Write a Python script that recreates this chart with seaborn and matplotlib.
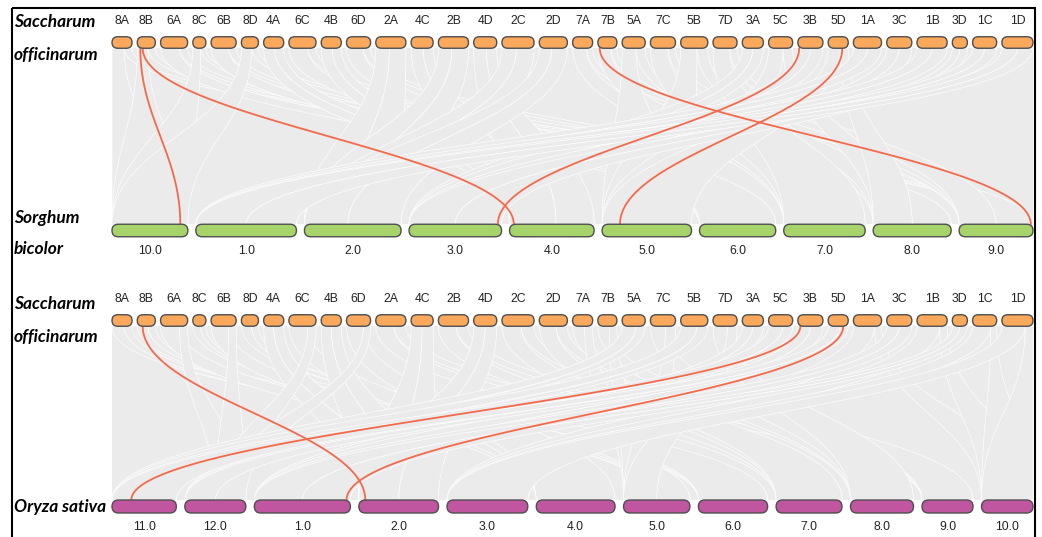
import numpy as np
import matplotlib
matplotlib.use("Agg")
import matplotlib.pyplot as plt
from matplotlib.patches import FancyBboxPatch, PathPatch, Rectangle
from matplotlib.path import Path
import pandas as pd
import seaborn as sns

# ---------------- data ----------------
cane_chroms = ["8A", "8B", "6A", "8C", "6B", "8D", "4A", "6C", "4B", "6D", "2A", "4C",
               "2B", "4D", "2C", "2D", "7A", "7B", "5A", "7C", "5B", "7D", "3A", "5C",
               "3B", "5D", "1A", "3C", "1B", "3D", "1C", "1D"]
cane_lengths = [20, 18, 27, 13, 25, 17, 20, 27, 20, 24, 30, 22,
                30, 23, 32, 28, 20, 19, 23, 25, 27, 24, 21, 24,
                25, 20, 28, 25, 30, 15, 24, 31]

sorghum_chroms = ["10.0", "1.0", "2.0", "3.0", "4.0", "5.0", "6.0", "7.0", "8.0", "9.0"]
sorghum_lengths = [61.0, 80.9, 77.7, 74.4, 68.0, 71.9, 61.3, 65.5, 62.7, 59.4]

rice_chroms = ["11.0", "12.0", "1.0", "2.0", "3.0", "4.0", "5.0", "6.0", "7.0", "8.0", "9.0", "10.0"]
rice_lengths = [29.0, 27.5, 43.3, 35.9, 36.4, 35.5, 29.9, 31.2, 29.7, 28.4, 23.0, 23.2]

# collinear blocks: base chromosome -> (source fraction range, target chrom, target fraction range)
cane_to_sorghum = {
    "1": [((0.0, 0.5), "1.0", (0.0, 0.5)), ((0.5, 1.0), "1.0", (0.5, 1.0))],
    "2": [((0.0, 0.45), "2.0", (0.0, 0.45)), ((0.45, 1.0), "2.0", (0.45, 1.0))],
    "3": [((0.0, 0.5), "3.0", (0.0, 0.5)), ((0.5, 1.0), "3.0", (0.5, 1.0))],
    "4": [((0.0, 0.55), "4.0", (0.0, 0.55)), ((0.55, 1.0), "4.0", (0.55, 1.0))],
    "5": [((0.0, 0.6), "5.0", (0.0, 1.0)), ((0.6, 1.0), "8.0", (0.0, 0.5))],
    "6": [((0.0, 0.7), "6.0", (0.0, 1.0)), ((0.7, 1.0), "8.0", (0.5, 1.0))],
    "7": [((0.0, 0.7), "7.0", (0.0, 1.0)), ((0.7, 1.0), "9.0", (0.0, 0.5))],
    "8": [((0.0, 0.6), "10.0", (0.0, 1.0)), ((0.6, 1.0), "9.0", (0.5, 1.0))],
}
cane_to_rice = {
    "1": [((0.0, 0.75), "3.0", (0.0, 1.0)), ((0.75, 1.0), "10.0", (0.0, 1.0))],
    "2": [((0.0, 0.6), "7.0", (0.0, 1.0)), ((0.6, 1.0), "9.0", (0.0, 1.0))],
    "3": [((0.0, 0.5), "1.0", (0.0, 0.5)), ((0.5, 1.0), "1.0", (0.5, 1.0))],
    "4": [((0.0, 0.5), "2.0", (0.0, 0.5)), ((0.5, 1.0), "2.0", (0.5, 1.0))],
    "5": [((0.0, 0.6), "11.0", (0.0, 1.0)), ((0.6, 1.0), "12.0", (0.0, 0.5))],
    "6": [((0.0, 0.7), "4.0", (0.0, 1.0)), ((0.7, 1.0), "12.0", (0.5, 1.0))],
    "7": [((0.0, 0.6), "8.0", (0.0, 1.0)), ((0.6, 1.0), "5.0", (0.0, 0.5))],
    "8": [((0.0, 0.6), "6.0", (0.0, 1.0)), ((0.6, 1.0), "5.0", (0.5, 1.0))],
}

# highlighted gene pairs: (cane chrom, position fraction, target chrom, position fraction)
sorghum_pairs = [("8B", 0.17, "10.0", 0.90), ("8B", 0.30, "4.0", 0.05),
                 ("3B", 0.05, "3.0", 0.96), ("5D", 0.70, "5.0", 0.20),
                 ("7B", 0.10, "9.0", 0.97)]
rice_pairs = [("8B", 0.30, "2.0", 0.08), ("3B", 0.10, "11.0", 0.30),
              ("5D", 0.75, "1.0", 0.96)]

# ---------------- style ----------------
sns.set_theme(style="white")
plt.rcParams["font.family"] = ["Liberation Sans", "DejaVu Sans"]

CANE_COL = "#f9a85c"
SORG_COL = "#a6d36a"
RICE_COL = "#c056a0"
EDGE_COL = "#4f4f4f"
LINK_COL = "#f26a4b"
RIBBON_COL = "#ebebeb"

X0, X1 = 112, 1033
Y_CANE1, Y_SORG, Y_CANE2, Y_RICE = 42.5, 230.5, 320.5, 506.5
H_CANE, H_SORG, H_RICE = 11.5, 12.5, 13.0

fig = plt.figure(figsize=(10.42, 5.37), dpi=100)
ax = fig.add_axes([0, 0, 1, 1])
ax.set_xlim(0, 1042)
ax.set_ylim(537, 0)
ax.axis("off")


def layout(names, lengths, gap):
    lengths = np.asarray(lengths, dtype=float)
    scale = (X1 - X0 - gap * (len(lengths) - 1)) / lengths.sum()
    starts = X0 + np.concatenate([[0], np.cumsum(lengths[:-1] * scale + gap)])
    return {n: (s, s + l * scale) for n, s, l in zip(names, starts, lengths)}


cane_pos = layout(cane_chroms, cane_lengths, 5.2)
sorg_pos = layout(sorghum_chroms, sorghum_lengths, 8.0)
rice_pos = layout(rice_chroms, rice_lengths, 8.5)


def at(pos, name, frac):
    a, b = pos[name]
    return a + (b - a) * frac


def ribbon(xa, xb, ya, xc, xd, yb, k=0.45):
    dy = yb - ya
    verts = [(xa, ya), (xa, ya + k * dy), (xc, yb - k * dy), (xc, yb),
             (xd, yb),
             (xd, yb - k * dy), (xb, ya + k * dy), (xb, ya),
             (xa, ya)]
    codes = [Path.MOVETO, Path.CURVE4, Path.CURVE4, Path.CURVE4,
             Path.LINETO,
             Path.CURVE4, Path.CURVE4, Path.CURVE4,
             Path.CLOSEPOLY]
    ax.add_patch(PathPatch(Path(verts, codes), facecolor=RIBBON_COL,
                           edgecolor="white", lw=0.45, zorder=1))


def draw_blocks(mapping, tpos, y_top, y_bot):
    # shared backdrop of the collinear region
    ax.add_patch(Rectangle((X0, y_top), X1 - X0, y_bot - y_top,
                           facecolor=RIBBON_COL, edgecolor="none", zorder=0.5))
    for name in cane_chroms:
        for (s0, s1), tname, (t0, t1) in mapping[name[0]]:
            ribbon(at(cane_pos, name, s0), at(cane_pos, name, s1), y_top,
                   at(tpos, tname, t0), at(tpos, tname, t1), y_bot)


def bezier(x1, y1, x2, y2, k=0.4, n=120):
    t = np.linspace(0, 1, n)
    dy = y2 - y1
    px = np.array([x1, x1, x2, x2])
    py = np.array([y1, y1 + k * dy, y2 - k * dy, y2])
    b = np.stack([(1 - t) ** 3, 3 * t * (1 - t) ** 2, 3 * t ** 2 * (1 - t), t ** 3])
    return px @ b, py @ b


def draw_pairs(pairs, tpos, y_top, y_bot):
    rows = []
    for i, (c, cf, tname, tf) in enumerate(pairs):
        xs, ys = bezier(at(cane_pos, c, cf), y_top, at(tpos, tname, tf), y_bot)
        rows.append(pd.DataFrame({"x": xs, "y": ys, "pair": i}))
    df = pd.concat(rows, ignore_index=True)
    sns.lineplot(data=df, x="x", y="y", units="pair", estimator=None, sort=False,
                 color=LINK_COL, lw=1.3, ax=ax, zorder=3, legend=False)


def draw_row(pos, y, h, color):
    for name, (a, b) in pos.items():
        ax.add_patch(FancyBboxPatch((a, y - h / 2), b - a, h,
                                    boxstyle=f"round,pad=0,rounding_size={h / 2}",
                                    facecolor=color, edgecolor=EDGE_COL, lw=1.0, zorder=4))


# ribbons and highlighted pairs
draw_blocks(cane_to_sorghum, sorg_pos, Y_CANE1 + H_CANE / 2, Y_SORG - H_SORG / 2)
draw_blocks(cane_to_rice, rice_pos, Y_CANE2 + H_CANE / 2, Y_RICE - H_RICE / 2)
draw_pairs(sorghum_pairs, sorg_pos, Y_CANE1 + H_CANE / 2, Y_SORG - H_SORG / 2)
draw_pairs(rice_pairs, rice_pos, Y_CANE2 + H_CANE / 2, Y_RICE - H_RICE / 2)

# chromosomes
draw_row(cane_pos, Y_CANE1, H_CANE, CANE_COL)
draw_row(cane_pos, Y_CANE2, H_CANE, CANE_COL)
draw_row(sorg_pos, Y_SORG, H_SORG, SORG_COL)
draw_row(rice_pos, Y_RICE, H_RICE, RICE_COL)

# chromosome labels
lab_kw = dict(ha="center", va="center", fontsize=8.8, color="#222222", zorder=5)
for name, (a, b) in cane_pos.items():
    ax.text((a + b) / 2, Y_CANE1 - 21, name, **lab_kw)
    ax.text((a + b) / 2, Y_CANE2 - 21, name, **lab_kw)
for name, (a, b) in sorg_pos.items():
    ax.text((a + b) / 2, Y_SORG + 20, name, **lab_kw)
for name, (a, b) in rice_pos.items():
    ax.text((a + b) / 2, Y_RICE + 20, name, **lab_kw)

# species names
sp_kw = dict(ha="left", va="center", fontsize=12.5, style="italic", weight="bold",
             family=["Lato", "DejaVu Sans"], color="black", zorder=5)
ax.text(14, 22, "Saccharum", **sp_kw)
ax.text(14, 55, "officinarum", **sp_kw)
ax.text(14, 218, "Sorghum", **sp_kw)
ax.text(14, 249, "bicolor", **sp_kw)
ax.text(14, 304, "Saccharum", **sp_kw)
ax.text(14, 337, "officinarum", **sp_kw)
ax.text(14, 507, "Oryza sativa", **sp_kw)

# frame
ax.add_patch(Rectangle((12, 8), 1023, 545, facecolor="none", edgecolor="black",
                       lw=1.5, zorder=6, clip_on=False))

fig.savefig("out.png", dpi=100)
